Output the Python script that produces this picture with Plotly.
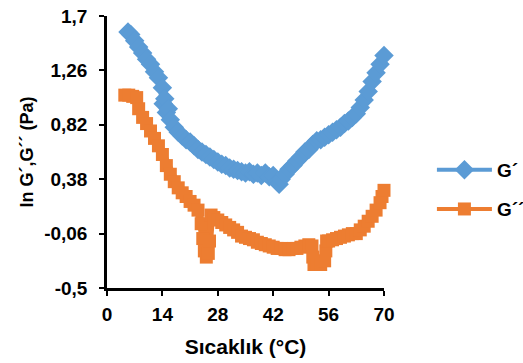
import plotly.graph_objects as go

# ---- data ----
g1_t = [5.3, 6, 7, 8, 9, 10, 11, 12, 13, 14, 14.2, 14.6, 15.0, 15.5, 16, 17, 18, 19, 20, 21, 22, 23, 24, 25, 26, 27, 28, 29,
        30, 31, 32, 33, 34, 35, 36, 37, 38, 39, 40, 41, 42, 43, 43.5, 44, 45, 46, 47, 48, 49, 50, 51, 52, 53, 54,
        55, 56, 57, 58, 59, 60, 61, 62, 63, 64, 65, 66, 67, 68, 69, 70]
g1_v = [1.57, 1.55, 1.50, 1.45, 1.40, 1.35, 1.31, 1.25, 1.20, 1.12, 0.99, 1.03, 0.92, 0.95, 0.86, 0.80, 0.76, 0.73,
        0.70, 0.68, 0.65, 0.62, 0.60, 0.58, 0.56, 0.54, 0.52, 0.50, 0.49, 0.47, 0.46, 0.45, 0.44, 0.43, 0.44, 0.42,
        0.43, 0.41, 0.43, 0.40, 0.41, 0.36, 0.34, 0.38, 0.42, 0.46, 0.49, 0.53, 0.56, 0.60, 0.62, 0.66, 0.69, 0.70,
        0.72, 0.74, 0.76, 0.78, 0.80, 0.83, 0.85, 0.88, 0.91, 0.96, 1.02, 1.09, 1.17, 1.24, 1.31, 1.38]

g2_t = [4.5, 5.5, 6.5, 7.5, 8, 9, 10, 11, 12, 13, 14, 15, 16, 17, 18, 19, 20, 21, 22, 23, 23.8, 24.2, 24.6, 25.1,
        25.6, 25.9, 26.3, 27, 28, 29, 30, 31, 32, 33, 34, 35, 36, 37, 38, 39, 40, 41, 42, 43, 44, 45, 46, 47, 48,
        49, 50, 51, 51.8, 52.0, 52.3, 53, 54, 55, 55.3, 55.5, 56, 57, 58, 59, 60, 61, 62, 63, 64, 65, 66, 67, 68,
        69, 69.5, 70]
g2_v = [1.06, 1.06, 1.05, 1.04, 0.95, 0.88, 0.83, 0.77, 0.71, 0.65, 0.58, 0.49, 0.42, 0.36, 0.31, 0.27, 0.24, 0.20,
        0.17, 0.13, 0.02, -0.10, -0.20, -0.25, -0.22, -0.12, 0.09, 0.07, 0.05, 0.03, 0.01, -0.01, -0.03, -0.05,
        -0.08, -0.09, -0.10, -0.11, -0.13, -0.14, -0.15, -0.16, -0.17, -0.18, -0.18, -0.19, -0.19, -0.18, -0.18,
        -0.17, -0.16, -0.15, -0.16, -0.25, -0.31, -0.31, -0.31, -0.28, -0.20, -0.12, -0.12, -0.11, -0.10, -0.09,
        -0.08, -0.07, -0.06, -0.06, -0.03, 0.00, 0.04, 0.08, 0.13, 0.19, 0.24, 0.29]

x_ticks = [0, 14, 28, 42, 56, 70]
y_ticks = [-0.5, -0.06, 0.38, 0.82, 1.26, 1.7]
y_tick_labels = ["-0,5", "-0,06", "0,38", "0,82", "1,26", "1,7"]
series_names = ["G´", "G´´"]
x_title = "Sıcaklık (°C)"
y_title = "ln G´,G´´ (Pa)"

BLUE = "#5B9BD5"
ORANGE = "#ED7D31"
FONT = "Liberation Sans, Arial, sans-serif"

fig = go.Figure()
# data bands
fig.add_trace(go.Scatter(
    x=g1_t, y=g1_v, name=series_names[0], mode="lines+markers", showlegend=False,
    line=dict(color=BLUE, width=8),
    marker=dict(symbol="diamond", size=15, color=BLUE),
    cliponaxis=False,
))
fig.add_trace(go.Scatter(
    x=g2_t, y=g2_v, name=series_names[1], mode="lines+markers", showlegend=False,
    line=dict(color=ORANGE, width=8),
    marker=dict(symbol="square", size=13, color=ORANGE),
    cliponaxis=False,
))
# legend entries (thin line + marker, as in the reference legend)
fig.add_trace(go.Scatter(
    x=[None], y=[None], name=series_names[0], mode="lines+markers",
    line=dict(color=BLUE, width=4),
    marker=dict(symbol="diamond", size=15, color=BLUE),
    legend="legend",
))
fig.add_trace(go.Scatter(
    x=[None], y=[None], name=series_names[1], mode="lines+markers",
    line=dict(color=ORANGE, width=4),
    marker=dict(symbol="square", size=13, color=ORANGE),
    legend="legend2",
))

axis_common = dict(
    showgrid=False, zeroline=False, showline=True, linecolor="black", linewidth=2.5,
    ticks="outside", ticklen=5, tickwidth=2, tickcolor="black", automargin=False,
    ticklabeloverflow="allow",
    tickfont=dict(family=FONT, size=19, color="black", weight="bold"),
)
leg_common = dict(font=dict(family=FONT, size=19, color="black", weight="bold"),
                  bgcolor="rgba(0,0,0,0)", xanchor="left", yanchor="middle", itemwidth=55)

fig.update_layout(
    width=523, height=363,
    margin=dict(l=107, r=139, t=16, b=75, autoexpand=False),
    paper_bgcolor="white", plot_bgcolor="white",
    showlegend=True,
    font=dict(family=FONT, color="black"),
    xaxis=dict(range=[0, 70], tickvals=x_ticks, ticktext=[str(v) for v in x_ticks],
               ticklabelstandoff=2,
               title=dict(text=x_title, font=dict(family=FONT, size=21, color="black", weight="bold"),
                          standoff=16),
               **axis_common),
    yaxis=dict(range=[-0.5, 1.7], tickvals=y_ticks, ticktext=y_tick_labels,
               ticklabelstandoff=8,
               title=dict(text=y_title, font=dict(family=FONT, size=18, color="black", weight="bold"),
                          standoff=6),
               **axis_common),
    legend=dict(x=1.173, y=0.434, **leg_common),
    legend2=dict(x=1.173, y=0.29, **leg_common),
)

# remove the page's default 8px body margin so the chart fills the window exactly
fig.write_html("out.html", config={"displayModeBar": False},
               post_script="document.body.style.margin='0';")
